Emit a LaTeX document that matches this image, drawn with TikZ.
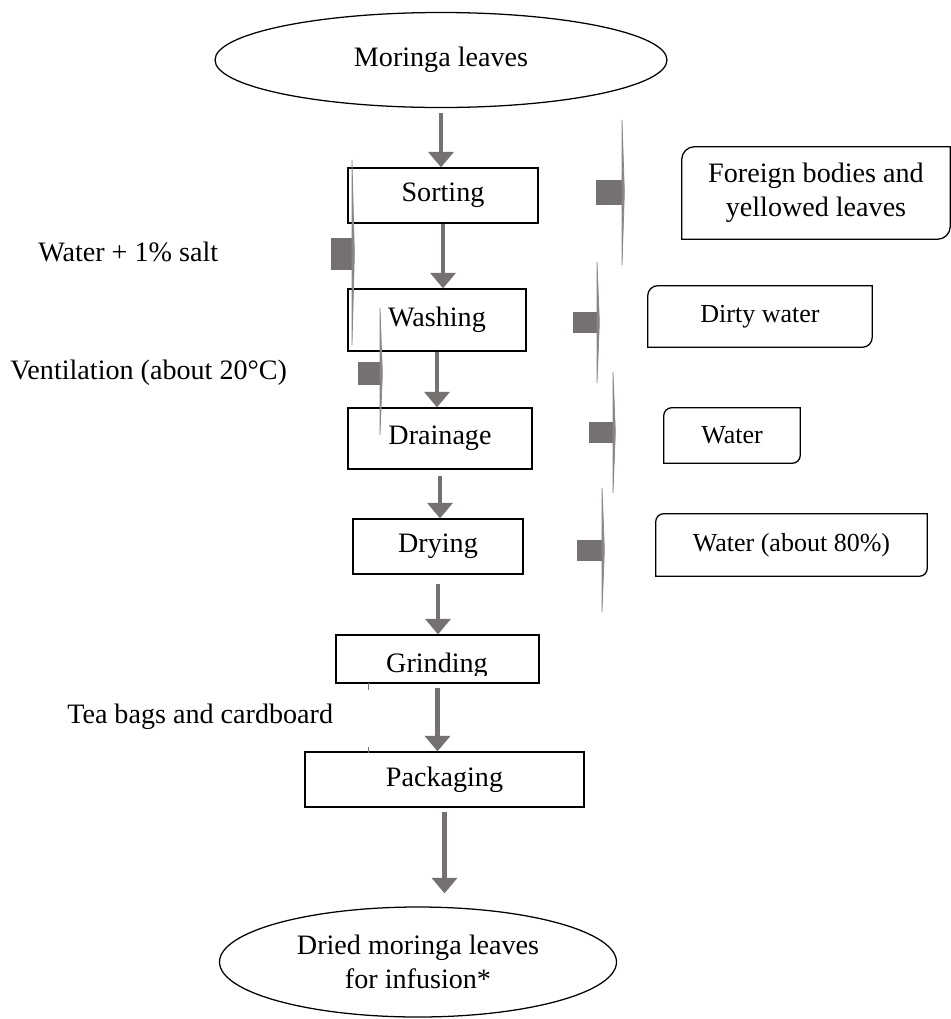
\documentclass[tikz,border=0pt]{standalone}
\usepackage{fontspec}
\setmainfont{Liberation Serif}
\usetikzlibrary{shapes.geometric,arrows.meta}
\definecolor{arrgray}{RGB}{118,113,113}
\begin{document}
\begin{tikzpicture}[
  stepbox/.style={draw, line width=0.9pt, inner sep=0pt, font=\fontsize{20}{24}\selectfont},
  endnode/.style={ellipse, draw, line width=0.9pt, inner sep=0pt, align=center,
                  font=\fontsize{20}{24}\selectfont},
  outbox/.style={inner sep=0pt, align=center, font=\fontsize{18.5}{24}\selectfont},
  lbl/.style={inner sep=0pt, anchor=west, font=\fontsize{20}{24}\selectfont},
  flow/.style={draw=arrgray, line width=3.5pt, -{Triangle[width=17.7pt,length=11pt]}},
  stub/.style={fill=arrgray},
  blade/.style={fill=arrgray!85, draw=arrgray!85, line width=0.5pt}
]
  \useasboundingbox (0,0) rectangle (23.775,-25.475);

  %-- Raw material and product
  \node[endnode, minimum width=11.3cm, minimum height=2.375cm] (leaves) at (11.025,-1.5) {Moringa leaves};
  \node[endnode, minimum width=9.925cm, minimum height=2.75cm] (dried) at (10.45,-24.05)
       {Dried moringa leaves\\for infusion*};

  %-- Process steps
  \node[stepbox, minimum width=4.75cm,  minimum height=1.375cm] (sort)  at (11.075,-4.8875) {Sorting};
  \node[stepbox, minimum width=4.45cm,  minimum height=1.55cm]  (wash)  at (10.925,-8.0)    {Washing};
  \node[stepbox, minimum width=4.6cm,   minimum height=1.525cm] (drain) at (11.0,-10.9625)  {Drainage};
  \node[stepbox, minimum width=4.25cm,  minimum height=1.375cm] (dry)   at (10.95,-13.6625) {Drying};
  \node[stepbox, minimum width=5.075cm, minimum height=1.2cm]   (grind) at (10.9375,-16.475) {};
  \begin{scope}
    \clip (8.4,-15.875) rectangle (13.475,-16.875);
    \node[inner sep=0pt, anchor=base, font=\fontsize{20}{24}\selectfont] (grindtxt) at (10.925,-16.8) {Grinding};
  \end{scope}
  \node[stepbox, minimum width=6.975cm, minimum height=1.375cm] (pack)  at (11.1125,-19.4875) {Packaging};

  %-- Outputs
  \node[outbox, font=\fontsize{20}{24}\selectfont, minimum width=6.7cm, minimum height=2.3cm] (foreign) at (20.4,-4.825)
       {Foreign bodies and\\yellowed leaves};
  \node[outbox, minimum width=5.6cm,   minimum height=1.525cm] (dirty) at (19.0,-7.9125)   {Dirty water};
  \node[outbox, minimum width=3.4cm,   minimum height=1.375cm] (water) at (18.3,-10.8875)  {Water};
  \node[outbox, minimum width=6.775cm, minimum height=1.55cm]  (wet)   at (19.7875,-13.625) {Water (about 80\%)};
  \foreach \n/\r in {foreign/0.32, dirty/0.25, water/0.2, wet/0.2}
    \draw[line width=0.9pt] (\n.south west) -- ([yshift=-\r cm]\n.north west)
      arc[start angle=180, end angle=90, radius=\r cm] -- (\n.north east)
      -- ([yshift=\r cm]\n.south east) arc[start angle=0, end angle=-90, radius=\r cm] -- cycle;

  %-- Inputs
  \node[lbl] (salt) at (0.95,-6.3)   {Water + 1\% salt};
  \node[lbl] (vent) at (0.25,-9.325) {Ventilation (about 20°C)};
  \node[lbl] (tea)  at (1.675,-17.925) {Tea bags and cardboard};

  %-- Main flow
  \draw[flow, shorten <=0.125cm] (leaves.south) -- (leaves.south |- sort.north);
  \draw[flow] (sort.south)  -- (sort.south |- wash.north);
  \draw[flow] (wash.south)  -- (wash.south |- drain.north);
  \draw[flow, shorten <=0.15cm]  (drain.south) -- (drain.south |- dry.north);
  \draw[flow, shorten <=0.225cm] (dry.south)   -- (dry.south |- grind.north);
  \draw[flow, shorten <=0.1cm]   (grind.south) -- (grind.south |- pack.north);
  \draw[flow, shorten <=0.1cm, shorten >=0.325cm] (pack.south) -- (pack.south |- dried.north);

  %-- Side arrows (broken)
  \fill[stub] (8.275,-5.95) rectangle (8.8,-6.75);
  \filldraw[blade] (8.8,-4.0) -- (8.86,-6.35) -- (8.8,-8.625) -- cycle;
  \fill[stub] (8.95,-9.05) rectangle (9.5,-9.625);
  \filldraw[blade] (9.5,-7.7) -- (9.56,-9.325) -- (9.5,-10.875) -- cycle;
  \fill[stub] (14.9,-4.5) rectangle (15.575,-5.125);
  \filldraw[blade] (15.55,-3.0) -- (15.61,-4.8) -- (15.55,-6.625) -- cycle;
  \fill[stub] (14.325,-7.8) rectangle (14.925,-8.325);
  \filldraw[blade] (14.925,-6.55) -- (14.985,-8.05) -- (14.925,-9.575) -- cycle;
  \fill[stub] (14.725,-10.55) rectangle (15.325,-11.075);
  \filldraw[blade] (15.325,-9.3) -- (15.385,-10.8) -- (15.325,-12.325) -- cycle;
  \fill[stub] (14.425,-13.5) rectangle (15.05,-14.025);
  \filldraw[blade] (15.05,-12.2) -- (15.11,-13.75) -- (15.05,-15.3) -- cycle;
  \draw[arrgray, line width=0.5pt] (9.2,-17.075) -- (9.2,-17.25);
  \draw[arrgray, line width=0.5pt] (9.2,-18.675) -- (9.2,-18.825);
\end{tikzpicture}
\end{document}
